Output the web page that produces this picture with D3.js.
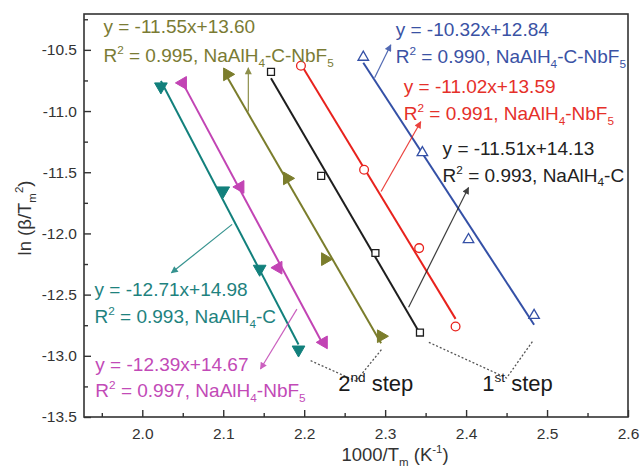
<!DOCTYPE html>
<html>
<head>
<meta charset="utf-8">
<script src="https://cdn.jsdelivr.net/npm/d3@7"></script>
<style>
  body { margin: 0; background: #fff; }
  svg { display: block; font-family: Arial, "Liberation Sans", sans-serif; }
</style>
</head>
<body>
<div id="chart"></div>
<script>
// ---- data (1000/Tm, ln(beta/Tm^2)) ----
var teal_x    = [2.023, 2.100, 2.145, 2.193];
var teal_y    = [-10.80, -11.65, -12.29, -12.95];
var magenta_x = [2.050, 2.121, 2.168, 2.224];
var magenta_y = [-10.77, -11.62, -12.28, -12.89];
var olive_x   = [2.105, 2.179, 2.226, 2.295];
var olive_y   = [-10.70, -11.55, -12.21, -12.84];
var black_x   = [2.159, 2.221, 2.288, 2.343];
var black_y   = [-10.68, -11.53, -12.16, -12.81];
var red_x     = [2.196, 2.274, 2.342, 2.387];
var red_y     = [-10.63, -11.48, -12.12, -12.76];
var blue_x    = [2.273, 2.346, 2.403, 2.484];
var blue_y    = [-10.56, -11.34, -12.05, -12.67];

var xTicks = [2.0, 2.1, 2.2, 2.3, 2.4, 2.5, 2.6];
var xMinor = [1.95, 2.05, 2.15, 2.25, 2.35, 2.45, 2.55];
var yTicks = [-13.5, -13.0, -12.5, -12.0, -11.5, -11.0, -10.5];
var yMinor = [-13.25, -12.75, -12.25, -11.75, -11.25, -10.75, -10.25];

// fit labels: text lines, anchor (data units), arrow (tail -> head)
var labelText = [
  ["y = -11.55x+13.60", "R^2 = 0.995, NaAlH_4-C-NbF_5"],
  ["y = -10.32x+12.84", "R^2 = 0.990, NaAlH_4-C-NbF_5"],
  ["y = -11.02x+13.59", "R^2 = 0.991, NaAlH_4-NbF_5"],
  ["y = -11.51x+14.13", "R^2 = 0.993, NaAlH_4-C"],
  ["y = -12.71x+14.98", "R^2 = 0.993, NaAlH_4-C"],
  ["y = -12.39x+14.67", "R^2 = 0.997, NaAlH_4-NbF_5"]
];
var labelAt   = [[1.952, -10.361, -10.598], [2.313, -10.386, -10.610], [2.323, -10.855, -11.070],
                 [2.371, -11.356, -11.576], [1.941, -12.513, -12.733], [1.942, -13.124, -13.340]];
var arrowFrom = [[2.131, -11.003], [2.287, -10.728], [2.295, -11.657], [2.329, -12.603], [2.111, -11.926], [2.191, -12.619]];
var arrowTo   = [[2.131, -10.647], [2.307, -10.459], [2.344, -11.087], [2.403, -11.625], [2.036, -12.322], [2.146, -13.108]];

var stepText = ["2^{nd} step", "1^{st} step"];
var stepAt   = [[2.242, -13.288], [2.420, -13.288]];
var bracket2 = [[2.208, -13.040], [2.264, -13.206], [2.296, -12.945]];
var bracket1 = [[2.354, -12.890], [2.450, -13.181], [2.483, -12.874]];

var series = [
  { xs: olive_x,   ys: olive_y,   color: "#7b7d2c", text: "#7a7b34", shape: "tri", rot: 90,  fill: true },
  { xs: blue_x,    ys: blue_y,    color: "#3450a6", text: "#3a52a4", shape: "tri", rot: 0,   fill: false },
  { xs: red_x,     ys: red_y,     color: "#e8221d", text: "#e5302a", shape: "circle", fill: false },
  { xs: black_x,   ys: black_y,   color: "#1e1e1e", text: "#222222", shape: "square", fill: false },
  { xs: teal_x,    ys: teal_y,    color: "#12807c", text: "#1e827e", shape: "tri", rot: 180, fill: true },
  { xs: magenta_x, ys: magenta_y, color: "#c244b4", text: "#c24ab7", shape: "tri", rot: -90, fill: true }
];

var W = 640, H = 468;
var margin = { top: 14, right: 12, bottom: 51, left: 84 };
var iw = W - margin.left - margin.right, ih = H - margin.top - margin.bottom;

var x = d3.scaleLinear().domain([1.928, 2.6]).range([0, iw]);
var y = d3.scaleLinear().domain([-13.5, -10.207]).range([ih, 0]);

var svg = d3.select("#chart").append("svg").attr("width", W).attr("height", H);
var g = svg.append("g").attr("transform", "translate(" + margin.left + "," + margin.top + ")");

// rich text: ^x superscript, _x subscript, {..} groups
function rich(textSel, str, fs) {
  var re = /([\^_])(?:\{([^}]*)\}|(.))|([^\^_]+)/g, m, cur = 0;
  while ((m = re.exec(str))) {
    var t = textSel.append("tspan");
    if (m[4] !== undefined) {
      t.text(m[4]).attr("dy", -cur);
      cur = 0;
    } else {
      var target = m[1] === "^" ? -0.42 * fs : 0.26 * fs;
      t.text(m[2] !== undefined ? m[2] : m[3])
        .attr("font-size", 0.62 * fs)
        .attr("dy", target - cur);
      cur = target;
    }
  }
}

// arrow heads
var defs = svg.append("defs");
series.forEach(function(s, i) {
  defs.append("marker")
    .attr("id", "ah" + i)
    .attr("viewBox", "0 0 10 10")
    .attr("refX", 9).attr("refY", 5)
    .attr("markerWidth", 9).attr("markerHeight", 7)
    .attr("markerUnits", "userSpaceOnUse")
    .attr("orient", "auto")
    .append("path").attr("d", "M0,0 L10,5 L0,10 z").attr("fill", s.color);
});

// axes (ticks inside)
var yAxis = d3.axisLeft(y).tickValues(yTicks).tickSizeInner(-7).tickSizeOuter(0).tickPadding(7)
  .tickFormat(function(d) { return d.toFixed(1); });
var yAxisMinor = d3.axisLeft(y).tickValues(yMinor).tickSizeInner(-4).tickSizeOuter(0).tickFormat("");
var xAxis = d3.axisBottom(x).tickValues(xTicks).tickSizeInner(-7).tickSizeOuter(0).tickPadding(11)
  .tickFormat(function(d) { return d.toFixed(1); });
var xAxisMinor = d3.axisBottom(x).tickValues(xMinor).tickSizeInner(-4).tickSizeOuter(0).tickFormat("");

function styleAxis(a) {
  a.select(".domain").remove();
  a.selectAll("line").attr("stroke", "#333").attr("stroke-width", 1.4);
  a.selectAll("text").attr("font-size", 15.5).attr("fill", "#333").attr("font-family", null);
}
g.append("g").call(yAxis).call(styleAxis);
g.append("g").call(yAxisMinor).call(styleAxis);
g.append("g").attr("transform", "translate(0," + ih + ")").call(xAxis).call(styleAxis);
g.append("g").attr("transform", "translate(0," + ih + ")").call(xAxisMinor).call(styleAxis);

g.append("rect").attr("width", iw).attr("height", ih)
  .attr("fill", "none").attr("stroke", "#333").attr("stroke-width", 1.6);

// axis titles
var xt = svg.append("text").attr("x", 395).attr("y", 461).attr("text-anchor", "middle")
  .attr("font-size", 18.5).attr("fill", "#333");
rich(xt, "1000/T_m (K^{-1})", 18.5);
var yt = svg.append("text").attr("transform", "translate(31,218) rotate(-90)").attr("text-anchor", "middle")
  .attr("font-size", 18.5).attr("fill", "#333");
rich(yt, "ln (\u03b2/T_m^2)", 18.5);

// fit lines (least squares through the points) and markers
var lineGen = d3.line().x(function(d) { return x(d[0]); }).y(function(d) { return y(d[1]); });

series.forEach(function(s) {
  var pts = s.xs.map(function(v, i) { return [v, s.ys[i]]; });
  var mx = d3.mean(s.xs), my = d3.mean(s.ys);
  var sxy = d3.sum(pts, function(p) { return (p[0] - mx) * (p[1] - my); });
  var sxx = d3.sum(pts, function(p) { return (p[0] - mx) * (p[0] - mx); });
  var b = sxy / sxx, a = my - b * mx;
  var ext = d3.extent(s.xs);
  g.append("path")
    .attr("d", lineGen([[ext[0], a + b * ext[0]], [ext[1], a + b * ext[1]]]))
    .attr("stroke", s.color).attr("stroke-width", 2).attr("fill", "none");

  var sym = s.shape === "tri" ? d3.symbol(d3.symbolTriangle, s.fill ? 70 : 48)
          : s.shape === "square" ? d3.symbol(d3.symbolSquare, 48)
          : d3.symbol(d3.symbolCircle, 60);
  g.selectAll(null).data(pts).enter().append("path")
    .attr("d", sym)
    .attr("transform", function(d) {
      return "translate(" + x(d[0]) + "," + y(d[1]) + ")" + (s.rot ? " rotate(" + s.rot + ")" : "");
    })
    .attr("fill", s.fill ? s.color : "#fff")
    .attr("stroke", s.color)
    .attr("stroke-width", s.fill ? 1 : 1.3);
});

// arrows from labels
series.forEach(function(s, i) {
  g.append("line")
    .attr("x1", x(arrowFrom[i][0])).attr("y1", y(arrowFrom[i][1]))
    .attr("x2", x(arrowTo[i][0])).attr("y2", y(arrowTo[i][1]))
    .attr("stroke", s.color).attr("stroke-width", 1.2).attr("opacity", 0.85)
    .attr("marker-end", "url(#ah" + i + ")");
});

// fit labels
var fs = 19;
series.forEach(function(s, i) {
  labelText[i].forEach(function(str, k) {
    var t = g.append("text")
      .attr("x", x(labelAt[i][0])).attr("y", y(labelAt[i][k + 1]))
      .attr("font-size", fs).attr("fill", s.text);
    rich(t, str, fs);
  });
});

// step brackets
[bracket2, bracket1].forEach(function(br) {
  g.append("path").attr("d", lineGen(br))
    .attr("fill", "none").attr("stroke", "#555").attr("stroke-width", 1.3)
    .attr("stroke-dasharray", "2,2");
});
stepText.forEach(function(str, i) {
  var t = g.append("text").attr("x", x(stepAt[i][0])).attr("y", y(stepAt[i][1]))
    .attr("font-size", 22).attr("fill", "#1a1a1a");
  rich(t, str, 22);
});
</script>
</body>
</html>
